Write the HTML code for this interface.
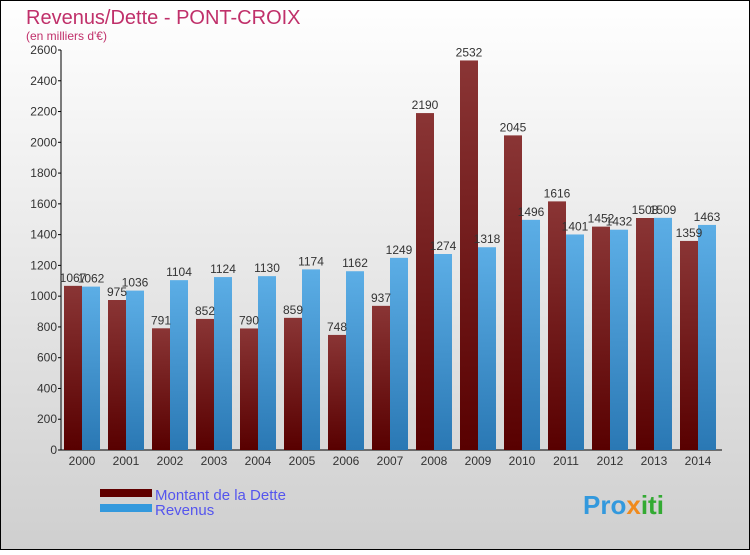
<!DOCTYPE html>
<html><head><meta charset="utf-8"><style>
body{margin:0}
svg text{font-family:"Liberation Sans",sans-serif}
</style></head><body>
<svg width="750" height="550" xmlns="http://www.w3.org/2000/svg">
<defs>
<linearGradient id="bg" x1="0" y1="0" x2="0" y2="1"><stop offset="0" stop-color="#ffffff"/><stop offset="1" stop-color="#cfcfcf"/></linearGradient>
<linearGradient id="gd" x1="0" y1="0" x2="0" y2="1"><stop offset="0" stop-color="#8a3535"/><stop offset="1" stop-color="#580000"/></linearGradient>
<linearGradient id="gr" x1="0" y1="0" x2="0" y2="1"><stop offset="0" stop-color="#5caee6"/><stop offset="1" stop-color="#2a78b4"/></linearGradient>
</defs>
<rect x="0.5" y="0.5" width="749" height="549" fill="url(#bg)" stroke="#000"/>
<text x="26" y="24" font-size="20" fill="#c0306a">Revenus/Dette - PONT-CROIX</text>
<text x="26" y="40" font-size="12" fill="#c0306a">(en milliers d'€)</text>
<g id="axes"></g>
<g id="bars"></g>
<g>
<rect x="100" y="489" width="52" height="8" fill="#600000"/>
<text x="155" y="500" font-size="15" fill="#5555ee">Montant de la Dette</text>
<rect x="100" y="504" width="52" height="8" fill="#3399dd"/>
<text x="155" y="515" font-size="15" fill="#5555ee">Revenus</text>
</g>
<text x="583" y="514" font-size="26" font-weight="bold" fill="#3399dd">Pro<tspan fill="#f08a1c">x</tspan><tspan fill="#33aa33">iti</tspan></text>
</svg>
<script>
const years=["2000","2001","2002","2003","2004","2005","2006","2007","2008","2009","2010","2011","2012","2013","2014"];
const dette=[1067,975,791,852,790,859,748,937,2190,2532,2045,1616,1452,1508,1359];
const revenus=[1062,1036,1104,1124,1130,1174,1162,1249,1274,1318,1496,1401,1432,1509,1463];
const ticks=[0,200,400,600,800,1000,1200,1400,1600,1800,2000,2200,2400,2600];
const NS="http://www.w3.org/2000/svg";
const y0=450,yTop=50,maxV=2600,x0=62,gw=44;
function yS(v){return y0-(v/maxV)*(y0-yTop);}
function xG(i){return x0+2+i*gw;}
function mk(t,a,p){const e=document.createElementNS(NS,t);for(const k in a)e.setAttribute(k,a[k]);p.appendChild(e);return e;}
const ax=document.getElementById('axes'),bg=document.getElementById('bars');
const yl=mk('line',{x1:x0-1,y1:yTop,x2:x0-1,y2:y0,stroke:'#000'},ax);


const xl=mk('line',{x1:x0-1,y1:y0,x2:722,y2:y0,stroke:'#000'},ax);


ticks.forEach(t=>{
 mk('line',{x1:x0-4,y1:yS(t),x2:x0-1,y2:yS(t),stroke:'#000'},ax);
 const tx=mk('text',{x:x0-5,y:yS(t)+4,'font-size':12,'text-anchor':'end',fill:'#333'},ax);
 tx.textContent=t;
 
 
});
years.forEach((yr,i)=>{
 const x=xG(i);
 const tx=mk('text',{x:x+18,y:465,'font-size':12,'text-anchor':'middle',fill:'#333'},ax);
 tx.textContent=yr;
 
 
 const b1=mk('rect',{x:x,y:yS(dette[i]),width:18,height:y0-yS(dette[i]),fill:'url(#gd)'},bg);
 
 
 const b2=mk('rect',{x:x+18,y:yS(revenus[i]),width:18,height:y0-yS(revenus[i]),fill:'url(#gr)'},bg);
 
 
 const l1=mk('text',{x:x+9,y:yS(dette[i])-4,'font-size':12,'text-anchor':'middle',fill:'#333'},bg);
 l1.textContent=dette[i];
 
 
 const l2=mk('text',{x:x+27,y:yS(revenus[i])-4,'font-size':12,'text-anchor':'middle',fill:'#333'},bg);
 l2.textContent=revenus[i];
 
 
});
</script>
</body></html>
